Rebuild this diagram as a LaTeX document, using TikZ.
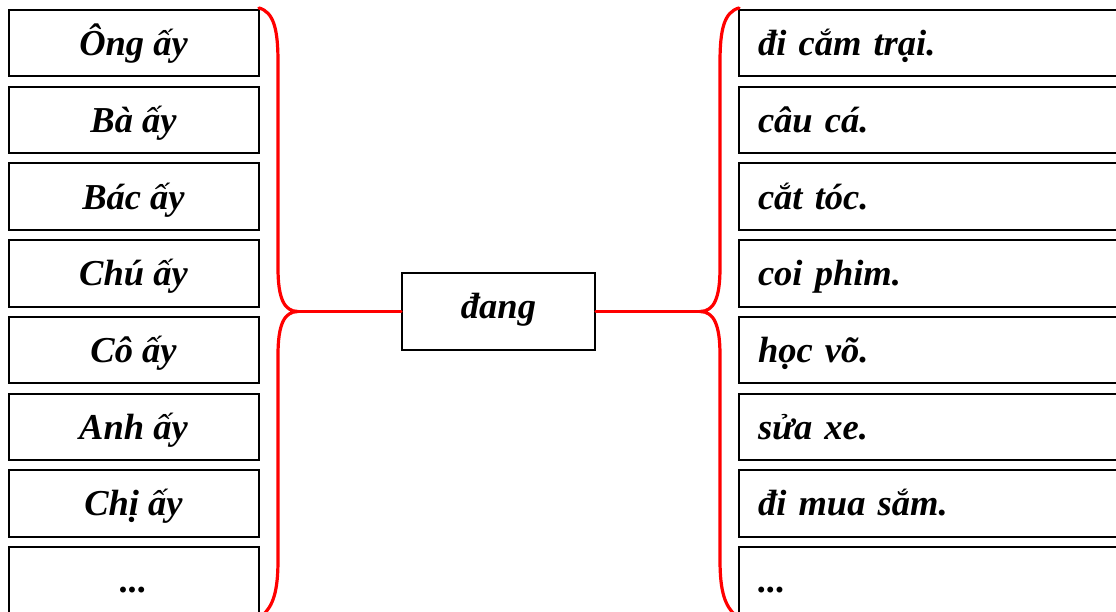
\documentclass[tikz,border=0pt]{standalone}
\usepackage{fontspec}
\setmainfont{Liberation Serif}
\begin{document}
\begin{tikzpicture}[x=1pt,y=-1pt,
  txt/.style={font=\fontsize{36.5}{40}\selectfont\bfseries\itshape},
  cell/.style={txt,draw=black,line width=2pt,minimum width=250pt,minimum height=66.5pt,inner sep=0pt,
    text height=30pt,text depth=5pt,fill=white},
  rcell/.style={txt,draw=black,line width=2pt,minimum width=400pt,minimum height=66.5pt,inner xsep=19pt,inner ysep=0pt,
    text height=30pt,text depth=5pt,text width=362pt,align=left,fill=white},
  brace/.style={draw=red,line width=3.2pt,line cap=round,line join=round}]
\useasboundingbox (0,0) rectangle (1116,612);
\clip (0,0) rectangle (1116,612);
\fill[white] (0,0) rectangle (1116,612);
% left column
\node[cell] (l1) at (133.5,43.25) {Ông ấy};
\node[cell] (l2) at (133.5,119.95) {Bà ấy};
\node[cell] (l3) at (133.5,196.65) {Bác ấy};
\node[cell] (l4) at (133.5,273.35) {Chú ấy};
\node[cell] (l5) at (133.5,350.05) {Cô ấy};
\node[cell] (l6) at (133.5,426.75) {Anh ấy};
\node[cell] (l7) at (133.5,503.45) {Chị ấy};
\node[cell] (l8) at (133.5,580.15) {...};
% right column
\node[rcell] (r1) at (939,43.25) {đi cắm trại.};
\node[rcell] (r2) at (939,119.95) {câu cá.};
\node[rcell] (r3) at (939,196.65) {cắt tóc.};
\node[rcell] (r4) at (939,273.35) {coi phim.};
\node[rcell] (r5) at (939,350.05) {học võ.};
\node[rcell] (r6) at (939,426.75) {sửa xe.};
\node[rcell] (r7) at (939,503.45) {đi mua sắm.};
\node[rcell] (r8) at (939,580.15) {...};
% center
\node[txt,draw=black,line width=2pt,minimum width=193pt,minimum height=77pt,inner sep=0pt,
  text height=25pt,text depth=10pt] (c) at (498.5,311.5) {đang};
\coordinate (lt) at (298,311.5);
\coordinate (rt) at (700,311.5);
% left brace
\path[brace] (259,8) .. controls (274,12) and (278,30) .. (278,62) -- (278,268)
  .. controls (278,298) and (284,311.5) .. (lt)
  .. controls (284,311.5) and (278,325) .. (278,355) -- (278,560)
  .. controls (278,592) and (273,606) .. (262,616);
% right brace
\path[brace] (739,8) .. controls (724,12) and (720,30) .. (720,62) -- (720,268)
  .. controls (720,298) and (714,311.5) .. (rt)
  .. controls (714,311.5) and (720,325) .. (720,355) -- (720,560)
  .. controls (720,592) and (725,606) .. (736,616);
\draw[brace] (lt) -- (c.west);
\draw[brace] (c.east) -- (rt);
\end{tikzpicture}
\end{document}
